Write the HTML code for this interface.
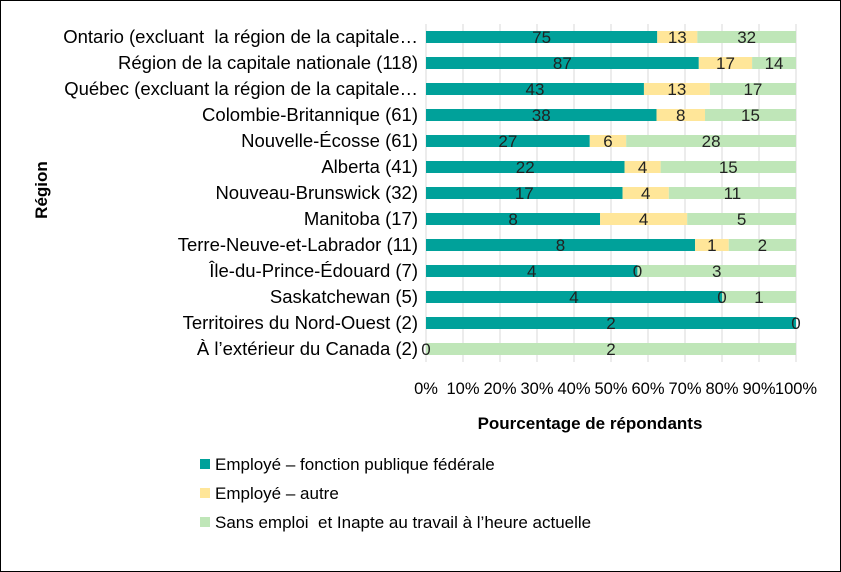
<!DOCTYPE html>
<html><head><meta charset="utf-8"><style>
body{margin:0;background:#fff;}
svg{display:block;font-family:"Liberation Sans",sans-serif;}
text{white-space:pre;}
</style></head><body>
<svg id="chart" width="841" height="572">
<rect x="0.5" y="0.5" width="840" height="571" fill="#fff" stroke="#000"/>
<g id="grid"></g><g id="bars"></g><g id="labels"></g><g id="axis"></g>
<text x="47" y="190" transform="rotate(-90 47 190)" font-size="17" font-weight="bold" text-anchor="middle">Région</text>
<text x="590" y="429" font-size="17" font-weight="bold" text-anchor="middle">Pourcentage de répondants</text>
<g>
<rect x="200" y="459" width="10" height="10" fill="#00a19a"/>
<text x="215" y="470" font-size="17">Employé – fonction publique fédérale</text>
<rect x="200" y="488" width="10" height="10" fill="#ffe699"/>
<text x="215" y="499" font-size="17">Employé – autre</text>
<rect x="200" y="517" width="10" height="10" fill="#bfe6b8"/>
<text x="215" y="528" font-size="17">Sans emploi  et Inapte au travail à l’heure actuelle</text>
</g>
</svg>
<script>
const categories=["Ontario (excluant  la région de la capitale…","Région de la capitale nationale (118)","Québec (excluant la région de la capitale…","Colombie-Britannique (61)","Nouvelle-Écosse (61)","Alberta (41)","Nouveau-Brunswick (32)","Manitoba (17)","Terre-Neuve-et-Labrador (11)","Île-du-Prince-Édouard (7)","Saskatchewan (5)","Territoires du Nord-Ouest (2)","À l’extérieur du Canada (2)"];
const federal=[75,87,43,38,27,22,17,8,8,4,4,2,0];
const other=[13,17,13,8,6,4,4,4,1,0,0,0,0];
const unemployed=[32,14,17,15,28,15,11,5,2,3,1,0,2];
const ticks=[0,10,20,30,40,50,60,70,80,90,100];
const colors=["#00a19a","#ffe699","#bfe6b8"];
const NS="http://www.w3.org/2000/svg";
const x0=426,x1=796,yTop=24,step=26,barH=12;
const xs=p=>x0+(x1-x0)*p/100;
const yc=i=>yTop+step*i+step/2;
function mk(t,a,parent){const e=document.createElementNS(NS,t);for(const k in a)e.setAttribute(k,a[k]);document.getElementById(parent).appendChild(e);return e;}
ticks.forEach(t=>{
 const l=mk("line",{x1:xs(t),x2:xs(t),y1:yTop,y2:yTop+step*categories.length,stroke:"#d9d9d9"},"grid");
 
 
 const tx=mk("text",{x:xs(t),y:394,"font-size":16.5,"text-anchor":"middle"},"axis");
 tx.textContent=t+"%";
 
 
});
categories.forEach((c,i)=>{
 const ct=mk("text",{x:418,y:yc(i)+6,"font-size":18.5,"text-anchor":"end"},"axis");
 ct.textContent=c;
 
 
 const vals=[federal[i],other[i],unemployed[i]];
 const tot=vals.reduce((a,b)=>a+b,0);
 let acc=0;
 vals.forEach((v,s)=>{
  const p0=acc/tot*100,p1=(acc+v)/tot*100;acc+=v;
  const r=mk("rect",{x:xs(p0),y:yc(i)-barH/2,width:xs(p1)-xs(p0),height:barH,fill:colors[s]},"bars");
  
  
  if(!(tot===2&&v===0&&s===1)){
   const lt=mk("text",{x:(xs(p0)+xs(p1))/2,y:yc(i)+6,"font-size":17,"text-anchor":"middle",fill:"#222"},"labels");
   lt.textContent=v;
   
   
  }
 });
});
</script>
</body></html>
